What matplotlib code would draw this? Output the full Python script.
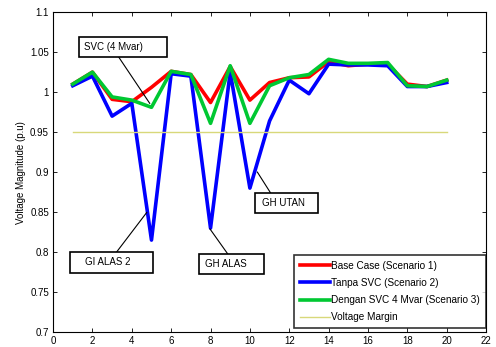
import matplotlib
matplotlib.use("Agg")
import matplotlib.pyplot as plt
from matplotlib.patches import Rectangle

plt.rcParams['font.family'] = ['Liberation Sans', 'DejaVu Sans']

# bus index
bus = list(range(1, 21))

base_case = [1.010, 1.025, 0.991, 0.988, 1.006, 1.026, 1.022, 0.987, 1.032, 0.990,
             1.012, 1.018, 1.019, 1.038, 1.033, 1.035, 1.035, 1.010, 1.007, 1.015]
tanpa_svc = [1.008, 1.020, 0.970, 0.986, 0.815, 1.023, 1.020, 0.830, 1.025, 0.880,
             0.964, 1.015, 0.998, 1.035, 1.034, 1.034, 1.033, 1.007, 1.007, 1.012]
dengan_svc = [1.010, 1.025, 0.994, 0.990, 0.981, 1.026, 1.022, 0.961, 1.033, 0.961,
              1.008, 1.018, 1.022, 1.041, 1.036, 1.036, 1.037, 1.008, 1.007, 1.015]
margin = [0.95] * len(bus)

labels = ['Base Case (Scenario 1)', 'Tanpa SVC (Scenario 2)',
          'Dengan SVC 4 Mvar (Scenario 3)', 'Voltage Margin']

# text boxes: text, box (x0, x1, y0, y1), text x, line start, line end
notes = [
    ('SVC (4 Mvar)', (1.31, 5.77, 1.044, 1.069), 1.56, (3.33, 1.044), (4.91, 0.986)),
    ('GI ALAS 2', (0.85, 5.06, 0.774, 0.800), 1.61, (3.24, 0.8005), (4.76, 0.8496)),
    ('GH ALAS', (7.43, 10.74, 0.773, 0.7975), 7.72, (8.88, 0.7975), (7.97, 0.829)),
    ('GH UTAN', (10.28, 13.48, 0.849, 0.874), 10.64, (11.05, 0.874), (10.38, 0.9)),
]

fig = plt.figure(figsize=(4.96, 3.47), dpi=100)
ax = fig.add_axes([0.107, 0.043, 0.873, 0.922])

ax.plot(bus, base_case, color='#ff0000', lw=2.6, label=labels[0])
ax.plot(bus, tanpa_svc, color='#0000ff', lw=2.6, label=labels[1])
ax.plot(bus, dengan_svc, color='#00c832', lw=2.6, label=labels[2])
ax.plot(bus, margin, color='#d8d87a', lw=1.0, label=labels[3])

for txt, (x0, x1, y0, y1), tx, p0, p1 in notes:
    ax.add_patch(Rectangle((x0, y0), x1 - x0, y1 - y0, fc='white', ec='black',
                           lw=1.2, zorder=5))
    ax.text(tx, (y0 + y1) / 2, txt, fontsize=7, ha='left', va='center', zorder=6)
    ax.plot([p0[0], p1[0]], [p0[1], p1[1]], color='black', lw=0.8, zorder=4)

ax.set_xlim(0, 22)
ax.set_ylim(0.7, 1.1)
ax.set_xticks(range(0, 23, 2))
ax.set_yticks([0.7, 0.75, 0.8, 0.85, 0.9, 0.95, 1.0, 1.05, 1.1])
ax.set_yticklabels(['0.7', '0.75', '0.8', '0.85', '0.9', '0.95', '1', '1.05', '1.1'])
ax.tick_params(direction='in', top=True, right=True, labelsize=7, length=3, width=0.6, pad=3)
for s in ax.spines.values():
    s.set_linewidth(0.8)
ax.set_ylabel('Voltage Magnitude (p.u)', fontsize=7, labelpad=3)

leg = ax.legend(loc='lower right', bbox_to_anchor=(1.0, 0.012), fontsize=7.2,
                frameon=True, fancybox=False, handlelength=3.0, handletextpad=0.15,
                borderpad=0.6, labelspacing=0.72, borderaxespad=0)
leg.get_frame().set_edgecolor('black')
leg.get_frame().set_linewidth(1.2)
leg.set_zorder(7)

fig.savefig('out.png', dpi=100)
